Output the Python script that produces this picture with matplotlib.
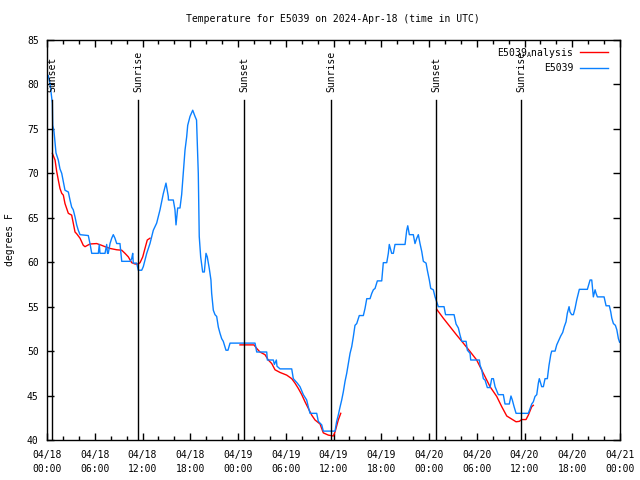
import numpy as np
import matplotlib
matplotlib.use("Agg")
import matplotlib.pyplot as plt

plt.rcParams['font.family'] = ['DejaVu Sans Mono']
plt.rcParams['mathtext.fontset'] = 'custom'
plt.rcParams['mathtext.rm'] = 'DejaVu Sans Mono'

title = "Temperature for E5039 on 2024-Apr-18 (time in UTC)"
ylabel = "degrees F"

# hours since 2024-04-18 00:00 UTC
obs_hours = [0.16, 0.38, 0.67, 0.72, 0.88, 1.13, 1.42, 1.63, 1.85, 2.05, 2.26, 2.68, 2.89, 3.10, 3.30,
             3.52, 3.73, 3.93, 4.15, 5.19, 5.40, 5.62, 6.45, 6.57, 6.66, 7.29, 7.50, 7.60, 7.70, 7.92,
             8.13, 8.33, 8.54, 8.76, 9.17, 9.39, 10.43, 10.64, 10.77, 10.84, 11.27, 11.47, 11.90, 12.10,
             12.53, 12.94, 13.36, 13.78, 14.20, 14.61, 14.95, 15.24, 15.26, 15.87, 16.08, 16.21, 16.42,
             16.71, 16.92, 17.12, 17.34, 17.55, 17.68, 17.97, 18.31, 18.60, 18.79, 19.01, 19.13, 19.31,
             19.56, 19.77, 19.98, 20.14, 20.39, 20.60, 20.69, 20.90, 21.11, 21.32, 21.53, 21.74, 21.95,
             22.15, 22.49, 22.74, 23.00, 26.14, 26.35, 27.61, 27.69, 28.44, 28.57, 28.82, 28.90, 29.28,
             30.75, 30.95, 31.45, 31.79, 32.21, 32.63, 32.84, 33.05, 33.89, 34.09, 34.52, 34.72, 36.19,
             36.40, 36.60, 36.82, 37.03, 37.23, 37.45, 37.66, 37.86, 38.08, 38.29, 38.49, 38.70, 38.92,
             39.24, 39.75, 39.96, 40.18, 40.59, 40.81, 41.01, 41.22, 41.51, 42.06, 42.26, 42.69, 42.89,
             43.01, 43.31, 43.52, 43.73, 44.99, 45.20, 45.33, 45.53, 46.03, 46.24, 46.46, 46.66, 46.87,
             47.09, 47.29, 47.63, 47.79, 48.04, 48.22, 48.54, 48.76, 49.17, 49.89, 50.08, 51.15, 51.40,
             51.69, 51.90, 52.12, 52.66, 52.82, 53.16, 53.24, 54.33, 54.42, 54.63, 54.83, 55.04, 55.33,
             55.67, 55.88, 56.09, 56.30, 56.71, 57.34, 57.55, 58.09, 58.30, 58.47, 58.69, 58.94, 60.48,
             60.78, 60.91, 61.11, 61.32, 61.54, 61.74, 61.86, 62.16, 62.37, 62.58, 62.87, 63.08, 63.30,
             63.42, 63.84, 64.05, 64.25, 64.55, 64.80, 65.00, 65.22, 65.38, 65.60, 65.72, 65.93, 66.14,
             66.35, 66.56, 66.77, 66.89, 67.90, 68.11, 68.24, 68.45, 68.65, 68.87, 68.99, 69.16, 70.00,
             70.12, 70.25, 70.66, 70.84, 70.97, 71.17, 71.42, 71.60, 71.80, 71.95]
obs_temps = [81.0, 80.1, 77.9, 75.4, 74.7, 72.3, 71.5, 70.5, 70.0, 69.1, 68.1, 67.9, 67.0, 66.2, 65.9,
             65.1, 64.2, 63.6, 63.1, 63.0, 62.1, 61.0, 61.0, 62.0, 61.0, 61.0, 62.0, 61.0, 61.0, 62.1,
             62.7, 63.1, 62.7, 62.1, 62.1, 60.1, 60.1, 60.4, 61.0, 59.9, 59.9, 59.1, 59.1, 59.5,
             61.0, 62.1, 63.6, 64.4, 65.9, 67.7, 68.9, 67.4, 67.0, 67.0, 65.9, 64.2, 66.1,
             66.1, 67.6, 70.0, 72.6, 74.1, 75.4, 76.4, 77.1, 76.4, 76.0, 70.0, 62.9, 60.6,
             58.9, 58.9, 61.0, 60.6, 59.3, 58.0, 56.5, 54.6, 54.1, 53.9, 52.7, 52.0, 51.4,
             51.1, 50.1, 50.1, 50.9, 50.9, 49.9, 49.9, 49.0, 49.0, 48.5, 49.0, 48.3, 48.0,
             48.0, 46.9, 46.4, 46.0, 45.1, 44.5, 43.7, 43.0, 43.0, 42.1, 41.7, 41.0, 41.0,
             42.1, 42.8, 43.7, 44.5, 45.4, 46.6, 47.5, 48.6, 49.75, 50.5, 51.6, 52.9, 53.1,
             54.0, 54.0, 54.8, 55.9, 55.9, 56.5, 56.9, 57.05, 57.9, 57.9, 59.95, 59.95, 61.0,
             62.0, 61.0, 61.0, 62.0, 62.0, 63.6, 64.1, 63.1, 63.1, 62.1, 62.7, 63.1, 62.1,
             61.2, 60.1, 59.9, 59.1, 58.0, 57.05, 56.9, 56.1, 55.0, 55.0, 54.1, 54.1, 53.05,
             52.6, 51.8, 51.1, 51.1, 50.1, 49.75, 49.0, 49.0, 48.4, 47.9, 46.9, 46.75, 45.9,
             45.9, 46.9, 46.9, 46.0, 45.1, 45.1, 44.05, 44.05, 44.95, 44.5, 43.75, 43.0, 43.0,
             43.75, 44.05, 44.3, 44.9, 45.1, 46.4, 46.9, 46.0, 46.0, 46.9, 46.9, 48.4, 49.6,
             50.0, 50.0, 50.7, 51.1, 51.7, 52.1, 52.75, 53.3, 54.25, 55.0, 54.4, 54.1, 54.1,
             54.8, 55.75, 56.5, 56.95, 56.95, 57.6, 58.0, 58.0, 56.1, 56.9, 56.5, 56.1, 56.1,
             55.6, 55.1, 55.1, 54.4, 53.7, 53.1, 52.9, 52.4, 51.4, 51.0]

# analysis series (NaN separates the night-time segments)
ana_hours = [0.67, 1.01, 1.22, 1.42, 1.63, 1.85, 2.05, 2.26, 2.68, 3.10, 3.30, 3.52, 3.73, 4.15, 4.56,
             4.78, 5.40, 6.24, 6.87, 7.29, 7.92, 8.76, 9.39, 9.80, 10.22, 10.64, 11.06, 11.47, 11.69,
             12.03, 12.31, 12.60, 12.94, 12.95,
             24.25, 26.01, 26.35, 26.76, 27.39, 27.81, 28.24, 28.65, 29.28, 30.12, 30.75, 31.16, 31.58,
             32.01, 32.42, 32.84, 33.26, 33.68, 34.31, 34.72, 35.35, 35.98, 36.19, 36.60, 36.91, 36.92,
             48.97, 49.80, 50.64, 51.48, 52.31, 53.16, 53.99, 54.83, 55.67, 56.51, 57.14, 57.77, 58.40,
             58.94, 59.35, 59.65, 60.19, 60.48, 60.91, 61.11]
ana_temps = [72.25, 71.5, 70.2, 69.25, 68.3, 67.75, 67.55, 66.6, 65.5, 65.3, 64.4, 63.4, 63.2, 62.7, 61.9,
             61.75, 62.05, 62.1, 61.9, 61.75, 61.55, 61.4, 61.35, 61.0, 60.6, 59.95, 59.8, 59.8, 59.95,
             60.6, 61.55, 62.5, 62.7, np.nan,
             50.7, 50.7, 50.3, 49.9, 49.6, 49.0, 48.6, 47.9, 47.6, 47.3, 46.9, 46.4, 45.8,
             45.1, 44.3, 43.55, 42.8, 42.25, 41.8, 40.8, 40.55, 40.45, 40.9, 42.25, 43.0, np.nan,
             54.7, 53.7, 52.75, 51.8, 50.9, 49.95, 49.0, 47.5, 46.0, 44.9, 43.75, 42.7, 42.35,
             42.05, 42.1, 42.3, 42.3, 42.8, 43.75, 43.9]

sun_hours = [0.63, 11.43, 24.75, 35.69, 48.88, 59.56]
sun_labels = ["Sunset", "Sunrise", "Sunset", "Sunrise", "Sunset", "Sunrise"]

xtick_hours = list(range(0, 73, 6))
xtick_labels = ["04/18\n00:00", "04/18\n06:00", "04/18\n12:00", "04/18\n18:00",
                "04/19\n00:00", "04/19\n06:00", "04/19\n12:00", "04/19\n18:00",
                "04/20\n00:00", "04/20\n06:00", "04/20\n12:00", "04/20\n18:00",
                "04/21\n00:00"]
ytick_values = list(range(40, 86, 5))

fig = plt.figure(figsize=(6.4, 4.8), dpi=100)
ax = fig.add_axes([47/640, 40/480, 573/640, 400/480])

ax.plot(ana_hours, ana_temps, color='#ff0000', lw=1.0, label=r"E5039$_\mathregular{A}$nalysis")
ax.plot(obs_hours, obs_temps, color='#0a80ff', lw=1.0, label="E5039")

for h, lab in zip(sun_hours, sun_labels):
    ax.axvline(h, ymin=0, ymax=0.85, color='black', lw=1.0)
    ax.text(h, 0.87, lab, transform=ax.get_xaxis_transform(), rotation=90,
            ha='center', va='bottom', fontsize=7)

ax.set_xlim(0, 72)
ax.set_ylim(40, 85)
ax.set_xticks(xtick_hours)
ax.set_xticklabels(xtick_labels, fontsize=7, linespacing=1.5)
ax.set_xticks(list(range(0, 73, 2)), minor=True)
ax.set_yticks(ytick_values)
ax.set_yticklabels([str(v) for v in ytick_values], fontsize=7)
ax.tick_params(axis='both', which='major', direction='in', length=5, width=1,
               top=True, right=True)
ax.tick_params(axis='x', which='minor', direction='in', length=3, width=1, top=True)
ax.tick_params(axis='x', which='major', pad=7)
ax.tick_params(axis='y', which='major', pad=6)
for s in ax.spines.values():
    s.set_linewidth(1.0)

leg = ax.legend(loc='upper right', bbox_to_anchor=(0.99, 1.0), markerfirst=False, frameon=False,
                fontsize=7, handlelength=2.9, handletextpad=0.7, labelspacing=0.35,
                borderaxespad=0.2)

fig.text(333/640, 1 - 19/480, title, ha='center', va='center', fontsize=7)
fig.text(10/640, 0.5, ylabel, rotation=90, ha='center', va='center', fontsize=7)

fig.savefig("out.png", dpi=100)
